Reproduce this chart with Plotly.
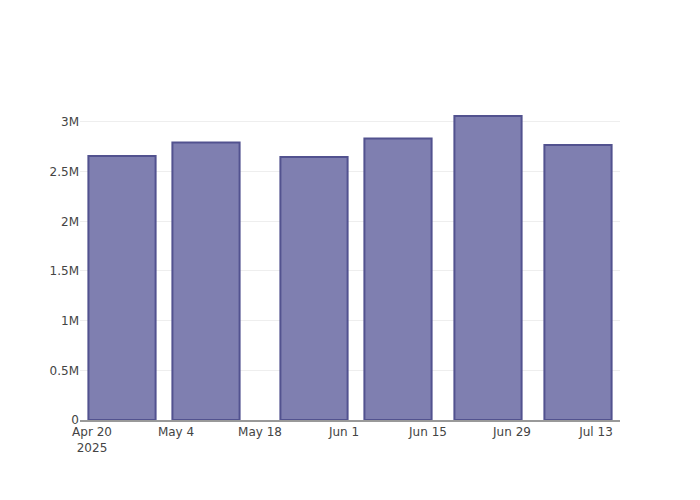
import plotly.graph_objects as go

dates = ["2025-04-25", "2025-05-09", "2025-05-27", "2025-06-10", "2025-06-25", "2025-07-10"]
values = [2658000, 2794000, 2648000, 2834000, 3060000, 2769000]
x_range = ["2025-04-18", "2025-07-17"]

fig = go.Figure(go.Bar(
    x=dates, y=values,
    marker=dict(color="#7f7fb0", line=dict(color="#52528f", width=2)),
))
fig.update_layout(
    width=684, height=484,
    paper_bgcolor="white", plot_bgcolor="white",
    font=dict(family="DejaVu Sans", size=12, color="#444"),
    margin=dict(l=72, r=72, t=92, b=72),
    showlegend=False,
)
fig.update_xaxes(type="date", range=x_range, showgrid=False, showline=True,
                 linecolor="#999", linewidth=2, dtick=14 * 86400000,
                 tick0="2025-04-20", ticks="")
fig.update_yaxes(showgrid=True, gridcolor="#eeeeee", zeroline=False,
                 showline=False, ticks="")
fig.write_html("out.html")
